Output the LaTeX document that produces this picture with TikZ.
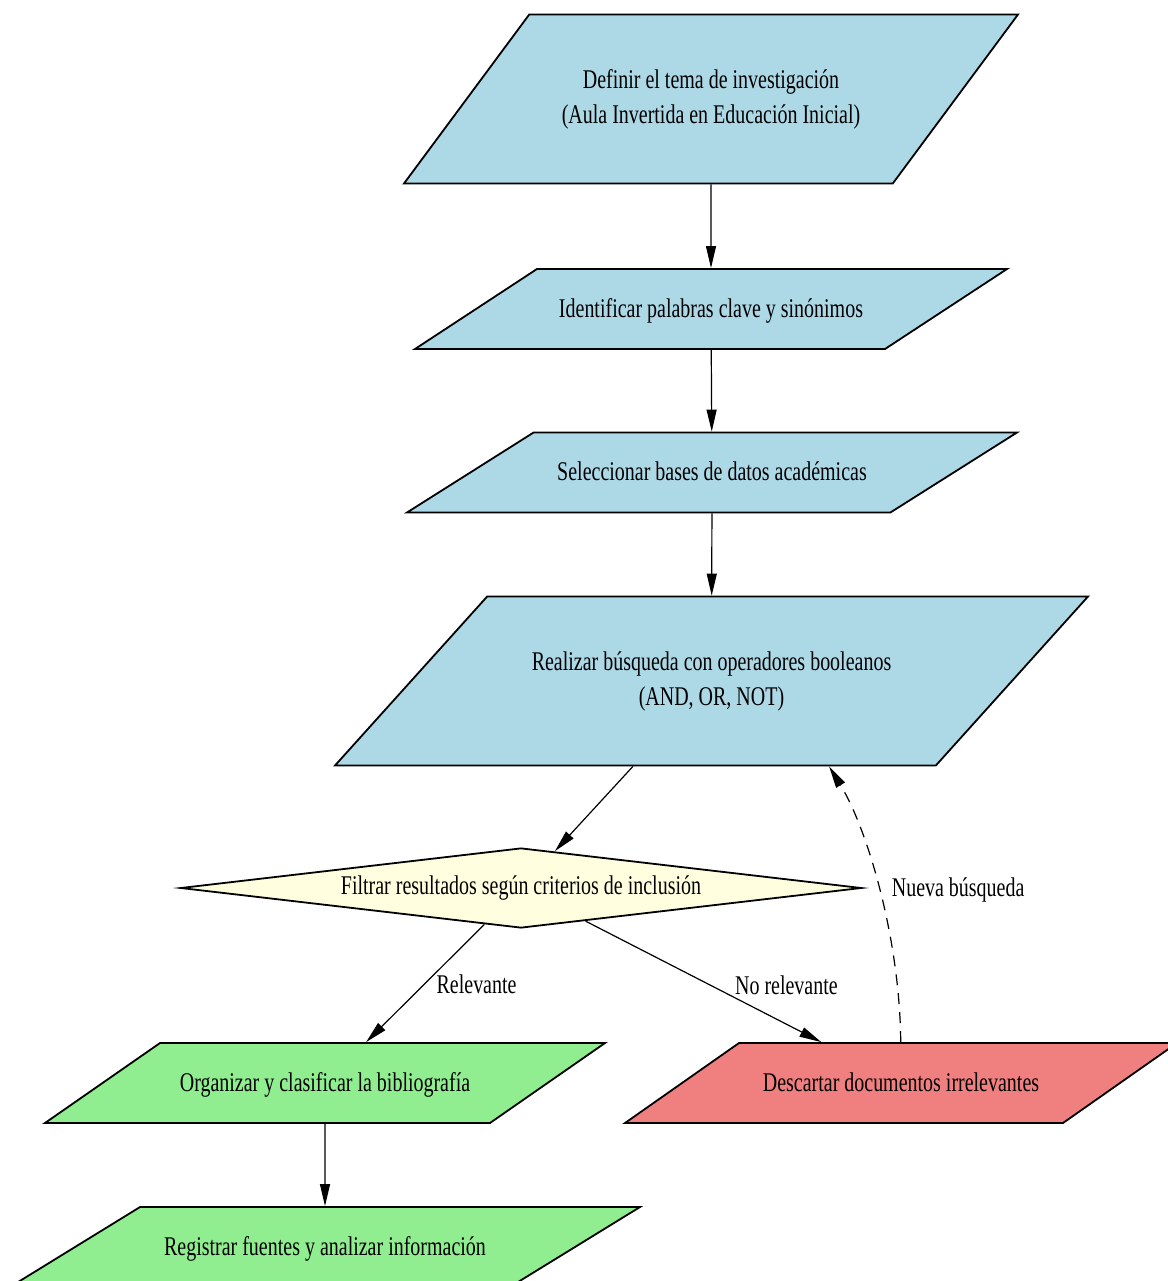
\documentclass[tikz,border=0pt]{standalone}
\usepackage{fontspec}
\setmainfont{Liberation Serif}[FakeStretch=0.74]
\usepackage{tikz}
\usetikzlibrary{shapes.geometric}
\usetikzlibrary{arrows.meta}
\definecolor{lightblue}{HTML}{ADD8E6}
\definecolor{lightyellow}{HTML}{FFFFE0}
\definecolor{lightgreen}{HTML}{90EE90}
\definecolor{lightcoral}{HTML}{F08080}
\tikzstyle{data}=[trapezium, trapezium stretches body, draw=black, line width=1.8pt, inner sep=0pt, align=center]
\tikzstyle{oneline}=[text height=48pt, text depth=32pt]
\tikzstyle{twoline}=[text height=109pt, text depth=60pt]
\tikzstyle{decision}=[diamond, draw=black, line width=1.8pt, inner sep=0pt, aspect=8.5, fill=lightyellow]
\tikzstyle{flow}=[line width=1.2pt, -{Triangle[length=22pt,width=10pt]}]
\tikzstyle{retry}=[flow, dash pattern=on 11pt off 8pt]
\tikzstyle{lbl}=[inner sep=0pt]

\begin{document}
\begin{tikzpicture}[x=1pt,y=-1pt,font=\fontsize{27}{35}\selectfont]
\useasboundingbox (0,0) rectangle (1167,1281);
% search steps
\node[data, twoline, fill=lightblue, minimum width=614pt,
  trapezium left angle=53.46, trapezium right angle=126.54] (def) at (711,99)
  {Definir el tema de investigación\\(Aula Invertida en Educación Inicial)};
\node[data, oneline, fill=lightblue, minimum width=592pt,
  trapezium left angle=33.26, trapezium right angle=146.74] (ident) at (711,309)
  {Identificar palabras clave y sinónimos};
\node[data, oneline, fill=lightblue, minimum width=610pt,
  trapezium left angle=32.29, trapezium right angle=147.71] (sel) at (712,472.5)
  {Seleccionar bases de datos académicas};
\node[data, twoline, fill=lightblue, minimum width=753pt,
  trapezium left angle=48, trapezium right angle=132] (real) at (711.5,681)
  {Realizar búsqueda con operadores booleanos\\(AND, OR, NOT)};
% filter
\node[decision, minimum width=681pt, minimum height=80pt] (filt) at (521,888)
  {Filtrar resultados según criterios de inclusión};
% outcomes
\node[data, oneline, fill=lightgreen, minimum width=560pt,
  trapezium left angle=34.82, trapezium right angle=145.18] (org) at (325,1083)
  {Organizar y clasificar la bibliografía};
\node[data, oneline, fill=lightcoral, minimum width=552pt,
  trapezium left angle=35.06, trapezium right angle=144.94] (desc) at (901,1083)
  {Descartar documentos irrelevantes};
\node[data, oneline, fill=lightgreen, minimum width=630pt,
  trapezium left angle=31.6, trapezium right angle=148.4] (reg) at (325,1247)
  {Registrar fuentes y analizar información};

\foreach \from/\to in {def/ident,ident/sel,sel/real,org/reg}
  \draw[flow] (\from) -- (\to);
\draw[flow] (real) -- (filt);
\draw[flow] (filt) -- node[lbl,pos=0.51,anchor=west,xshift=12pt] {Relevante} (org);
\draw[flow] (filt) -- node[lbl,pos=0.53,anchor=west,xshift=24pt] {No relevante} (desc);
\draw[retry] (desc) .. controls (900,940) and (868,830) ..
  node[lbl,pos=0.5,anchor=west,xshift=12pt] {Nueva búsqueda} (real.-36);
\end{tikzpicture}
\end{document}
